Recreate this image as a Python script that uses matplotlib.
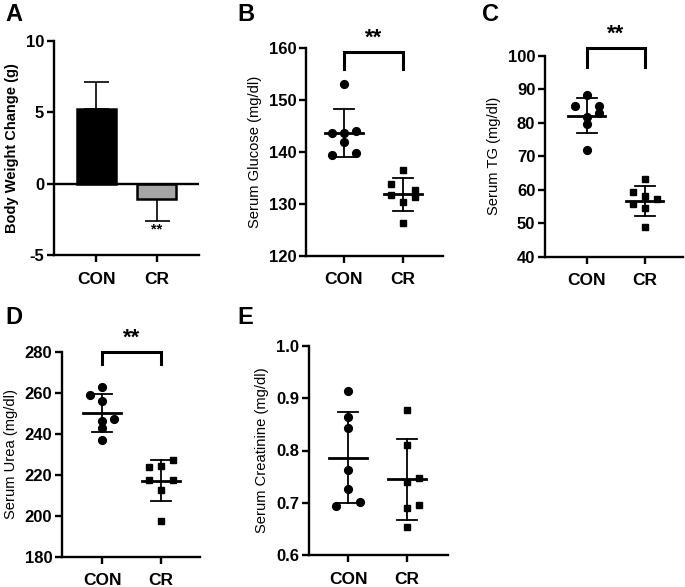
import matplotlib
matplotlib.use("Agg")
import matplotlib.pyplot as plt
import numpy as np

plt.rcParams['font.family'] = ['Liberation Sans', 'DejaVu Sans']
plt.rcParams['axes.unicode_minus'] = False

groups = ["CON", "CR"]

# Panel A: body weight change (mean, SD)
bw_mean = [5.2, -1.05]
bw_sd = [1.95, 1.55]

# Panel B: serum glucose
glu_con = [153.1, 143.6, 143.6, 144.1, 141.9, 139.4, 139.9]
glu_cr = [136.5, 133.8, 131.7, 132.7, 131.3, 130.4, 126.4]
# Panel C: serum TG
tg_con = [88.3, 85.1, 84.9, 82.8, 81.8, 79.6, 71.9]
tg_cr = [63.2, 59.2, 58.1, 57.1, 55.7, 54.6, 48.9]
# Panel D: serum urea
urea_con = [262.6, 258.9, 256.0, 247.3, 246.0, 242.9, 236.9]
urea_cr = [227.2, 223.9, 224.2, 217.4, 217.4, 212.5, 197.3]
# Panel E: serum creatinine
crea_con = [0.913, 0.863, 0.842, 0.763, 0.727, 0.695, 0.702]
crea_cr = [0.877, 0.811, 0.748, 0.739, 0.690, 0.696, 0.654]

# horizontal layout slots of the points (beeswarm columns)
slot_b = ([0, -1, 0, 1, 0, -1, 1], [0, -1, -1, 1, 1, 0, 0])
slot_c = ([0, -1, 1, 1, 0, 0, 0], [0, -1, 0, 1, -1, 0, 0])
slot_d = ([0, -1, 0, 1, 0, 0, 0], [1, -1, 0, -1, 1, 0, 0])
slot_e = ([0, 0, 0, 0, 0, -1, 1], [0, 0, 1, 0, 0, 1, 0])

W, H = 685, 587
fig = plt.figure(figsize=(W / 100, H / 100), dpi=100)


def px_axes(l, r, t, b):
    return fig.add_axes([l / W, 1 - b / H, (r - l) / W, (b - t) / H])


SP = 1.7


def style(ax, ylim, yticks, ylabel, xlim, label_bold=False, ticklabels=None):
    ax.set_xlim(*xlim)
    ax.set_ylim(*ylim)
    ax.set_yticks(yticks)
    if ticklabels is not None:
        ax.set_yticklabels(ticklabels)
    ax.set_xticks([0, 1])
    ax.set_xticklabels(groups, fontsize=12.5, fontweight='bold')
    for s in ['top', 'right']:
        ax.spines[s].set_visible(False)
    for s in ['left', 'bottom']:
        ax.spines[s].set_linewidth(SP)
    ax.tick_params(axis='both', width=SP, length=5, direction='out')
    ax.tick_params(axis='y', labelsize=12, pad=2)
    ax.tick_params(axis='x', pad=7)
    for t in ax.get_yticklabels():
        t.set_fontweight('bold')
    ax.set_ylabel(ylabel, fontsize=10.5 if label_bold else 10.6,
                  fontweight='bold' if label_bold else 'medium', labelpad=5)


def scatter_panel(ax, con, cr, slots):
    step = 0.205
    for gi, (vals, slot, mk) in enumerate([(con, slots[0], 'o'), (cr, slots[1], 's')]):
        vals = np.array(vals)
        xs = gi + np.array(slot) * step
        ax.plot(xs, vals, linestyle='none', marker=mk, color='black',
                markersize=5.6 if mk == 'o' else 5.0, zorder=3, clip_on=False)
        m = vals.mean()
        sd = vals.std(ddof=1)
        ax.plot([gi - 0.32, gi + 0.32], [m, m], color='black', lw=2.0, zorder=4)
        ax.plot([gi, gi], [m - sd, m + sd], color='black', lw=1.3, zorder=4)
        for yy in (m - sd, m + sd):
            ax.plot([gi - 0.17, gi + 0.17], [yy, yy], color='black', lw=1.3, zorder=4)


def bracket(ax, ytop, yend, ystar):
    ax.plot([0, 0, 1, 1], [yend, ytop, ytop, yend], color='black', lw=2.2,
            clip_on=False, solid_joinstyle='miter')
    ax.text(0.5, ystar, "**", ha='center', va='center', fontsize=16,
            fontweight='bold', clip_on=False)


# Panel A
axA = px_axes(54, 199, 41, 255)
axA.bar([0, 1], bw_mean, width=0.64, color=['black', '#a6a6a6'],
        edgecolor='black', linewidth=1.8, zorder=2)
axA.errorbar([0], [bw_mean[0]], yerr=[[0], [bw_sd[0]]], fmt='none', ecolor='black',
             elinewidth=1.2, capsize=9, capthick=1.2, zorder=1)
axA.errorbar([1], [bw_mean[1]], yerr=[[bw_sd[1]], [0]], fmt='none', ecolor='black',
             elinewidth=1.2, capsize=9, capthick=1.2, zorder=1)
axA.axhline(0, color='black', lw=SP, zorder=3)
style(axA, (-5, 10), [-5, 0, 5, 10], "Body Weight Change (g)", (-0.69, 1.69),
      label_bold=True)
axA.text(1, bw_mean[1] - bw_sd[1] - 0.6, "**", ha='center', va='center',
         fontsize=10.5, fontweight='bold')

# Panel B
axB = px_axes(306, 443, 48.3, 255.7)
scatter_panel(axB, glu_con, glu_cr, slot_b)
style(axB, (120, 160), [120, 130, 140, 150, 160], "Serum Glucose (mg/dl)", (-0.64, 1.68))
bracket(axB, 159.3, 156.1, 162.0)

# Panel C
axC = px_axes(545, 683, 55.7, 256.7)
scatter_panel(axC, tg_con, tg_cr, slot_c)
style(axC, (40, 100), [40, 50, 60, 70, 80, 90, 100], "Serum TG (mg/dl)", (-0.72, 1.66))
bracket(axC, 102.2, 96.7, 106.5)

# Panel D
axD = px_axes(62, 200, 351.7, 556.7)
scatter_panel(axD, urea_con, urea_cr, slot_d)
style(axD, (180, 280), [180, 200, 220, 240, 260, 280], "Serum Urea (mg/dl)", (-0.68, 1.66))
bracket(axD, 279.7, 274.0, 286.5)

# Panel E
axE = px_axes(309, 448, 345.7, 555.3)
scatter_panel(axE, crea_con, crea_cr, slot_e)
style(axE, (0.6, 1.0), [0.6, 0.7, 0.8, 0.9, 1.0], "Serum Creatinine (mg/dl)", (-0.66, 1.69),
      ticklabels=["0.6", "0.7", "0.8", "0.9", "1.0"])

# panel letters
for lab, x, y in [("A", 5, 3), ("B", 237, 3), ("C", 482, 3), ("D", 5, 306), ("E", 237, 306)]:
    fig.text(x / W, 1 - y / H, lab, fontsize=17, fontweight='bold', ha='left', va='top')

fig.savefig("out.png", dpi=100)
